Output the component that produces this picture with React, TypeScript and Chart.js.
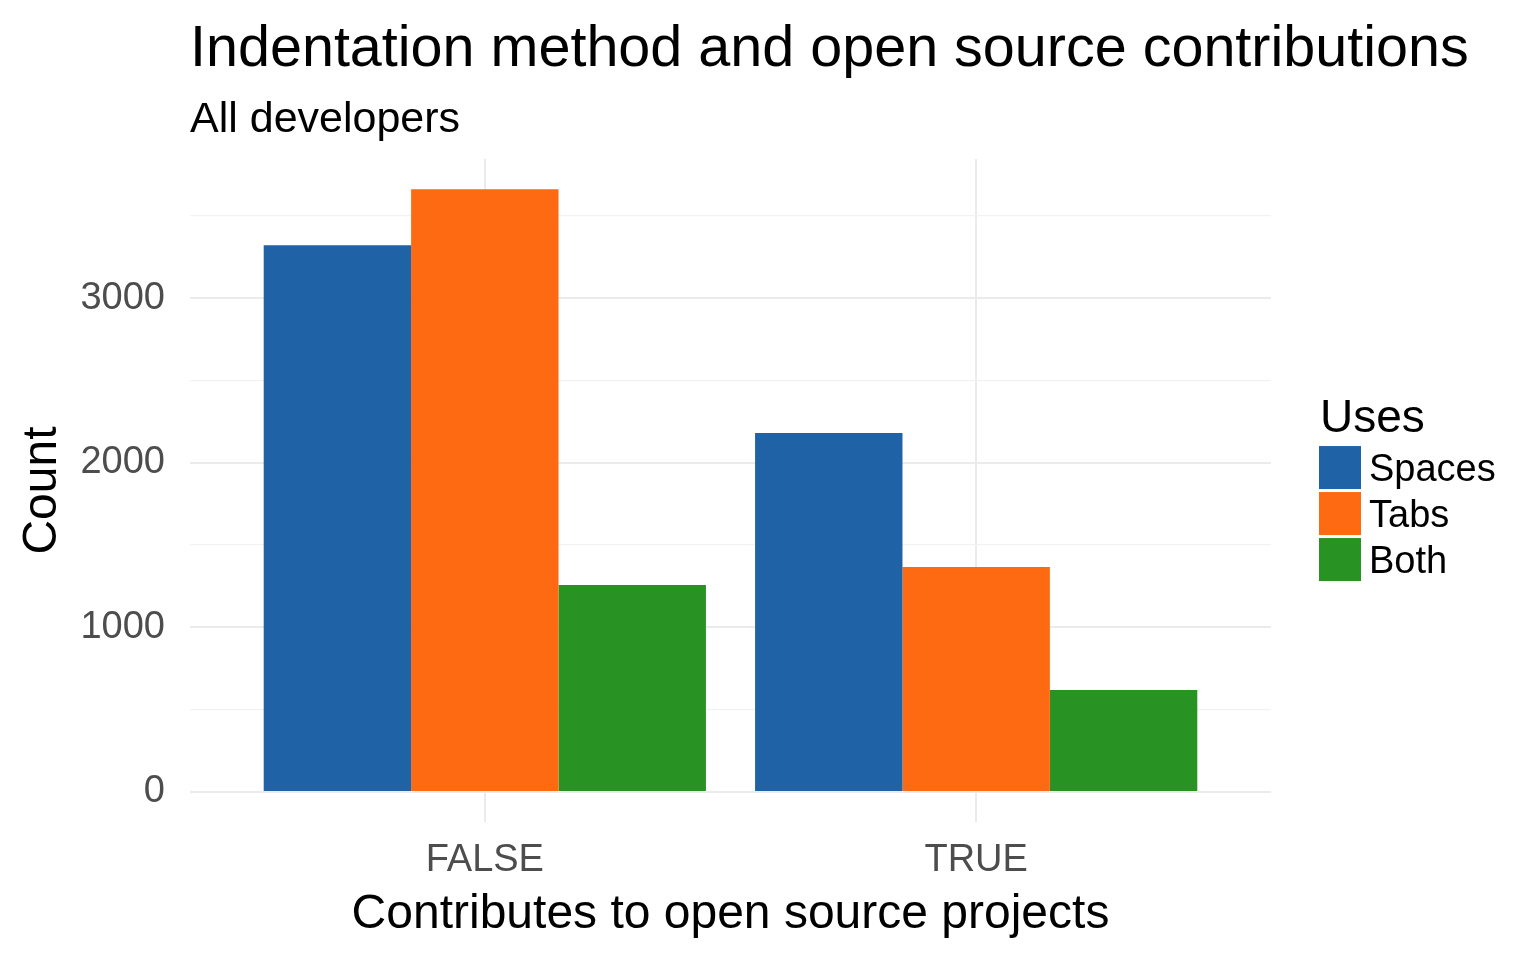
import React, { useEffect, useRef } from 'react';
import { Chart, registerables } from 'chart.js';

Chart.register(...registerables);

// ---- data ----
const categories = ['FALSE', 'TRUE'];
const categoryPositions = [1, 2];
const seriesNames = ['Spaces', 'Tabs', 'Both'];
const spacesValues = [3321, 2180];
const tabsValues = [3661, 1366];
const bothValues = [1257, 619];
const seriesColors = ['#1f62a5', '#fd6a12', '#289322'];
const yMajorTicks = [0, 1000, 2000, 3000];
const yMinorTicks = [500, 1500, 2500, 3500];
const yMin = -183;
const yMax = 3844;
const xMin = 0.4;
const xMax = 2.6;

const titleText = 'Indentation method and open source contributions';
const subtitleText = 'All developers';
const xTitle = 'Contributes to open source projects';
const yTitle = 'Count';
const legendTitle = 'Uses';

const FONT = '"Liberation Sans", Arial, Helvetica, sans-serif';

// Titles start at the plot's left edge but may run past its right edge (like ggplot).
const titleAlignPlugin = {
  id: 'titleAlign',
  afterLayout(chart: any) {
    for (const box of chart.boxes) {
      const t = box?.options?.text;
      if (t === titleText || t === subtitleText) {
        box.left = chart.chartArea.left;
        box.right = chart.width;
        box.width = box.right - box.left;
      }
    }
  },
};

const legendPlugin = {
  id: 'ggLegend',
  afterDraw(chart: any) {
    const ctx = chart.ctx as CanvasRenderingContext2D;
    const area = chart.chartArea;
    const boxW = 42;
    const boxH = 43;
    const step = 46;
    const titleSize = 46;
    const labelSize = 38;
    const n = chart.data.datasets.length;
    const blockH = 48 + n * step - 3;
    const x0 = area.right + 48;
    const top = (area.top + area.bottom) / 2 - blockH / 2 - 1;
    ctx.save();
    ctx.textAlign = 'left';
    ctx.textBaseline = 'alphabetic';
    ctx.fillStyle = '#000000';
    ctx.font = `${titleSize}px ${FONT}`;
    ctx.fillText(legendTitle, x0 + 1, top + 34);
    chart.data.datasets.forEach((ds: any, i: number) => {
      const by = top + 48 + i * step;
      ctx.fillStyle = ds.backgroundColor;
      ctx.fillRect(x0, by, boxW, boxH);
      ctx.fillStyle = '#000000';
      ctx.font = `${labelSize}px ${FONT}`;
      ctx.fillText(ds.label, x0 + boxW + 8, by + boxH / 2 + 0.358 * labelSize);
    });
    ctx.restore();
  },
};

export default function App() {
  const ref = useRef<HTMLCanvasElement | null>(null);

  useEffect(() => {
    if (!ref.current) return;
    Chart.defaults.font.family = FONT;
    const valuesList = [spacesValues, tabsValues, bothValues];
    const chart = new Chart(ref.current, {
      type: 'bar',
      data: {
        datasets: seriesNames.map((name, i) => ({
          label: name,
          data: categoryPositions.map((x, j) => ({ x, y: valuesList[i][j] })),
          backgroundColor: seriesColors[i],
          borderWidth: 0,
          categoryPercentage: 0.9,
          barPercentage: 1.0,
        })),
      },
      options: {
        responsive: false,
        animation: false,
        layout: { padding: { left: 0, right: 265, top: 0, bottom: 0 } },
        plugins: {
          legend: { display: false },
          tooltip: { enabled: false },
          title: {
            display: true,
            text: titleText,
            align: 'start',
            fullSize: true,
            color: '#000000',
            font: { size: 57.5, weight: 'normal', family: FONT, lineHeight: 1.2 },
            padding: { top: 16, bottom: 0 },
          },
          subtitle: {
            display: true,
            text: subtitleText,
            align: 'start',
            fullSize: true,
            color: '#000000',
            font: { size: 43, weight: 'normal', family: FONT, lineHeight: 1.2 },
            padding: { top: 9, bottom: 13.5 },
          },
        },
        scales: {
          x: {
            type: 'linear',
            min: xMin,
            max: xMax,
            offset: false,
            afterBuildTicks: (scale: any) => {
              scale.ticks = categoryPositions.map((v) => ({ value: v }));
            },
            afterFit: (scale: any) => {
              scale.height = 138;
            },
            ticks: {
              autoSkip: false,
              maxRotation: 0,
              padding: 15.7,
              color: '#4d4d4d',
              font: { size: 38, family: FONT },
              callback: (v: any) => {
                const idx = categoryPositions.indexOf(Number(v));
                return idx >= 0 ? categories[idx] : '';
              },
            },
            grid: { color: '#ebebeb', lineWidth: 2, drawTicks: false, offset: false },
            border: { display: false },
            title: {
              display: true,
              text: xTitle,
              color: '#000000',
              font: { size: 48, family: FONT, lineHeight: 1.2 },
              padding: { top: 3, bottom: 16 },
            },
          },
          y: {
            type: 'linear',
            min: yMin,
            max: yMax,
            afterBuildTicks: (scale: any) => {
              scale.ticks = [...yMajorTicks, ...yMinorTicks]
                .sort((a, b) => a - b)
                .map((v) => ({ value: v }));
            },
            afterFit: (scale: any) => {
              scale.width = 190;
            },
            ticks: {
              autoSkip: false,
              padding: 25,
              color: '#4d4d4d',
              font: { size: 38, family: FONT },
              callback: (v: any) => (yMajorTicks.includes(Number(v)) ? String(v) : ''),
            },
            grid: {
              drawTicks: false,
              color: (c: any) => (yMajorTicks.includes(c.tick?.value) ? '#ebebeb' : '#f2f2f2'),
              lineWidth: (c: any) => (yMajorTicks.includes(c.tick?.value) ? 2 : 1.2),
            },
            border: { display: false },
            title: {
              display: true,
              text: yTitle,
              color: '#000000',
              font: { size: 48, family: FONT, lineHeight: 1.2 },
              padding: { top: 14, bottom: 0 },
            },
          },
        },
      } as any,
      plugins: [titleAlignPlugin, legendPlugin],
    });
    return () => chart.destroy();
  }, []);

  return (
    <div style={{ position: 'absolute', left: 0, top: 0, width: 1536, height: 960, background: '#ffffff' }}>
      <canvas ref={ref} width={1536} height={960} style={{ display: 'block' }} />
    </div>
  );
}
